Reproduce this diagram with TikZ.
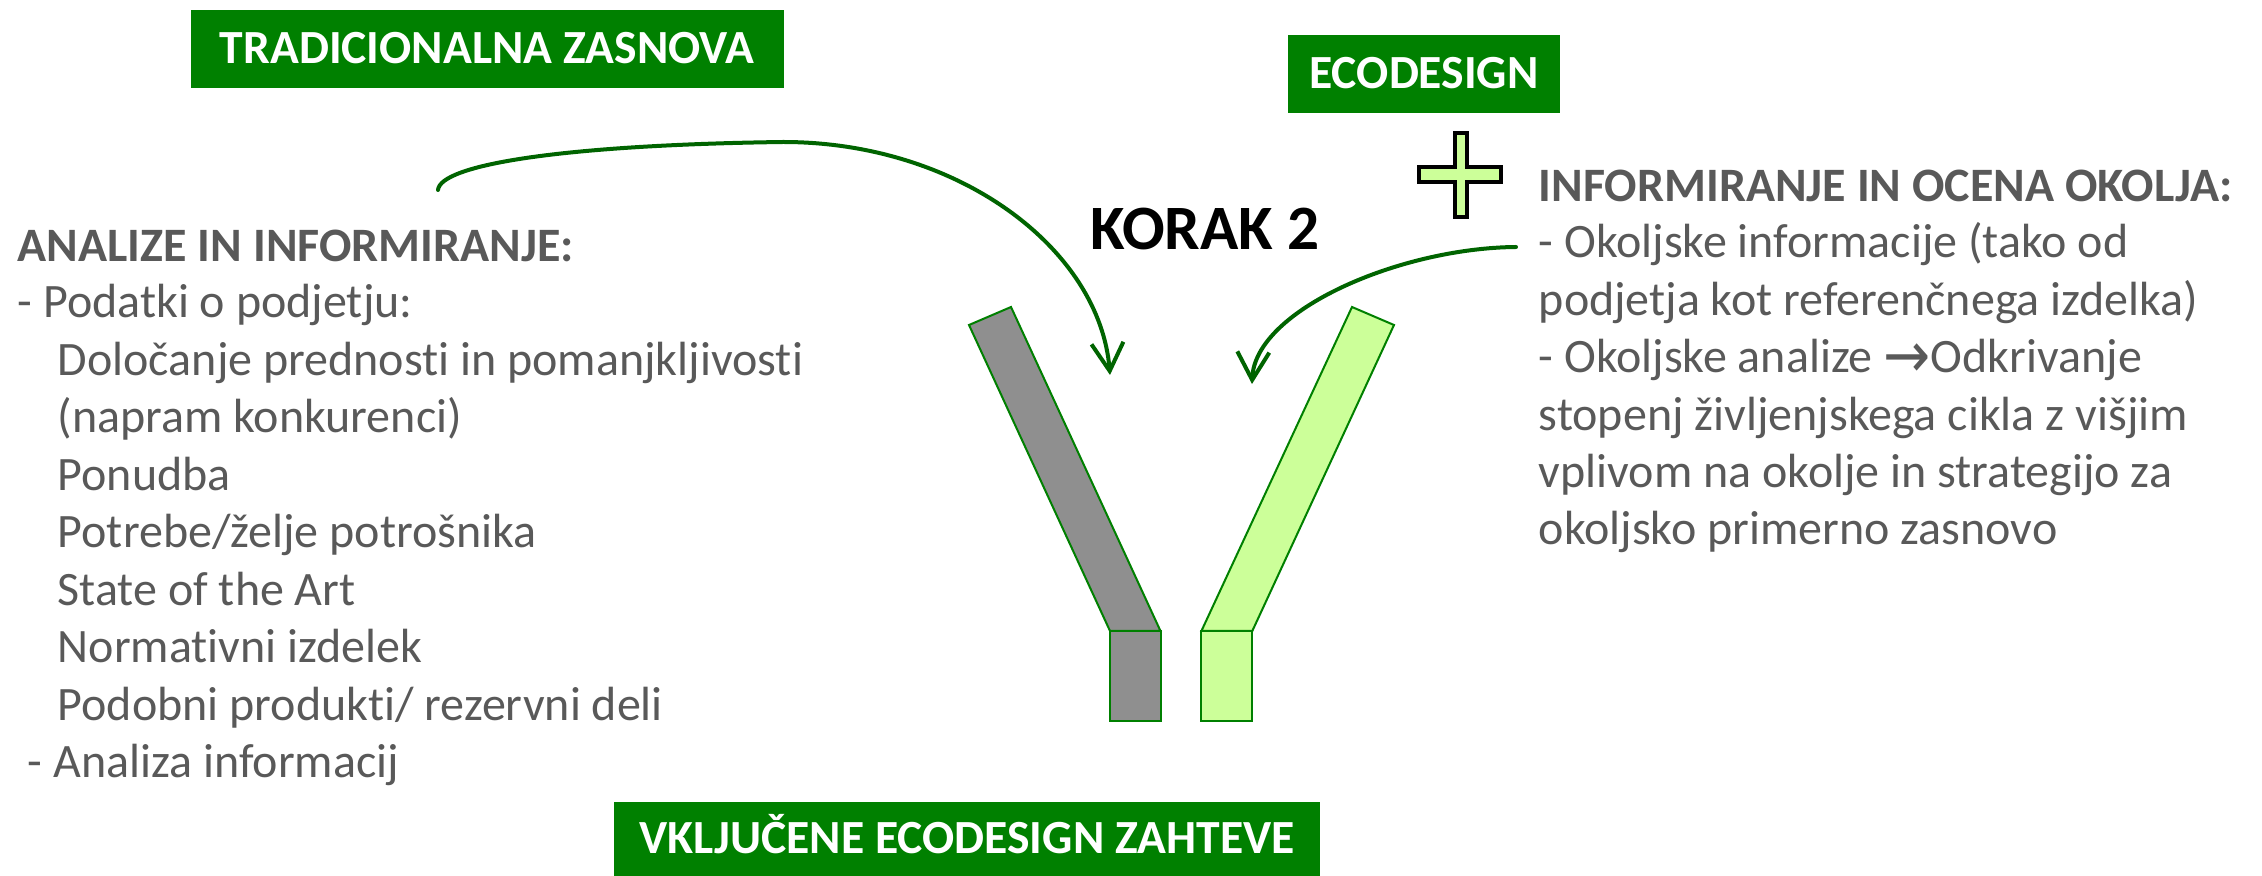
\documentclass[tikz,border=0pt]{standalone}
\usepackage{fontspec}
\usepackage{graphicx}
\setmainfont{Carlito}[Ligatures=NoCommon]
\newfontfamily\arrowfont{DejaVu Sans}
\usetikzlibrary{arrows.meta}

\definecolor{boxgreen}{HTML}{008000}
\definecolor{arrowgreen}{HTML}{006400}
\definecolor{textgray}{HTML}{595959}
\definecolor{armgray}{HTML}{8F8F8F}
\definecolor{armgreen}{HTML}{CCFF99}

\tikzset{
  titlebox/.style={fill=boxgreen, text=white, inner sep=0pt,
    text height=7.5pt, text depth=0pt,
    font=\fontsize{11.9}{14}\selectfont\bfseries},
  itemline/.style={anchor=base west, text=textgray, inner sep=0pt,
    font=\fontsize{12}{14}\selectfont},
  headline/.style={itemline, font=\fontsize{12}{14}\selectfont\bfseries},
  flowarrow/.style={draw=arrowgreen, line width=1pt, line cap=round,
    -{Straight Barb[length=7pt,width=8pt]}},
  armshape/.style={draw=boxgreen, line width=0.5pt}
}
\newcommand{\textarrow}{{\arrowfont\fontsize{16}{14}\selectfont\raisebox{-1.2pt}{\scalebox{0.88}[1]{→}}}}

\begin{document}
\begin{tikzpicture}[x=0.25pt,y=-0.25pt]
\useasboundingbox (0,0) rectangle (2262,876);

% green title boxes
\node[titlebox, minimum width=148.25pt, minimum height=19.5pt] (trad) at (487,49) {TRADICIONALNA ZASNOVA};
\node[titlebox, minimum width=68pt, minimum height=19.5pt] (eco) at (1424,74) {ECODESIGN};
\node[titlebox, minimum width=176.5pt, minimum height=18.5pt] (req) at (967,839) {VKLJUČENE ECODESIGN ZAHTEVE};

\node[anchor=base, inner sep=0pt, font=\fontsize{15.8}{18}\selectfont\bfseries] (korak) at (1205,250) {KORAK 2};

% left text
\node[headline] (anahead) at (17,262) {ANALIZE IN INFORMIRANJE:};
\foreach \xx/\txt [count=\i from 0] in {
  17/{- Podatki o podjetju:},
  57/{Določanje prednosti in pomanjkljivosti},
  57/{(napram konkurenci)},
  57/{Ponudba},
  57/{Potrebe/želje potrošnika},
  57/{State of the Art},
  57/{Normativni izdelek},
  57/{Podobni produkti/ rezervni deli},
  27/{- Analiza informacij}}
  \node[itemline] (ana\i) at (\xx,{318+57.5*\i}) {\txt};

% right text
\node[headline] (envhead) at (1538,202) {INFORMIRANJE IN OCENA OKOLJA:};
\foreach \txt [count=\i from 0] in {
  {- Okoljske informacije (tako od},
  {podjetja kot referenčnega izdelka)},
  {- Okoljske analize \textarrow Odkrivanje},
  {stopenj življenjskega cikla z višjim},
  {vplivom na okolje in strategijo za},
  {okoljsko primerno zasnovo}}
  \node[itemline] (env\i) at (1538,{258+57.4*\i}) {\txt};

% the two arms
\filldraw[armshape, fill=armgray] (969,325) -- (1011,307) -- (1160.5,631) -- (1110,631) -- cycle;
\filldraw[armshape, fill=armgray] (1110,631) rectangle (1160.5,720.6);
\filldraw[armshape, fill=armgreen] (1352,307) -- (1394,325) -- (1252.3,631) -- (1201.4,631) -- cycle;
\filldraw[armshape, fill=armgreen] (1201.4,631) rectangle (1252.3,720.6);

% plus sign
\filldraw[draw=black, line width=0.8pt, fill=armgreen]
  (1455,133) -- (1467,133) -- (1467,167) -- (1501,167) -- (1501,182) -- (1467,182)
  -- (1467,217) -- (1455,217) -- (1455,182) -- (1419,182) -- (1419,167) -- (1455,167) -- cycle;

% arrows
\coordinate (tradstart) at (438,190);
\coordinate (tradtip) at (1110,375);
\coordinate (ecostart) at (1516,247);
\coordinate (ecotip) at (1252,384);
\draw[flowarrow] (tradstart) .. controls (440,165) and (560,145) .. (783,142)
  .. controls (960,142) and (1100,250) .. (tradtip);
\draw[flowarrow] (ecostart) .. controls (1400,248) and (1255,310) .. (ecotip);
\end{tikzpicture}
\end{document}
